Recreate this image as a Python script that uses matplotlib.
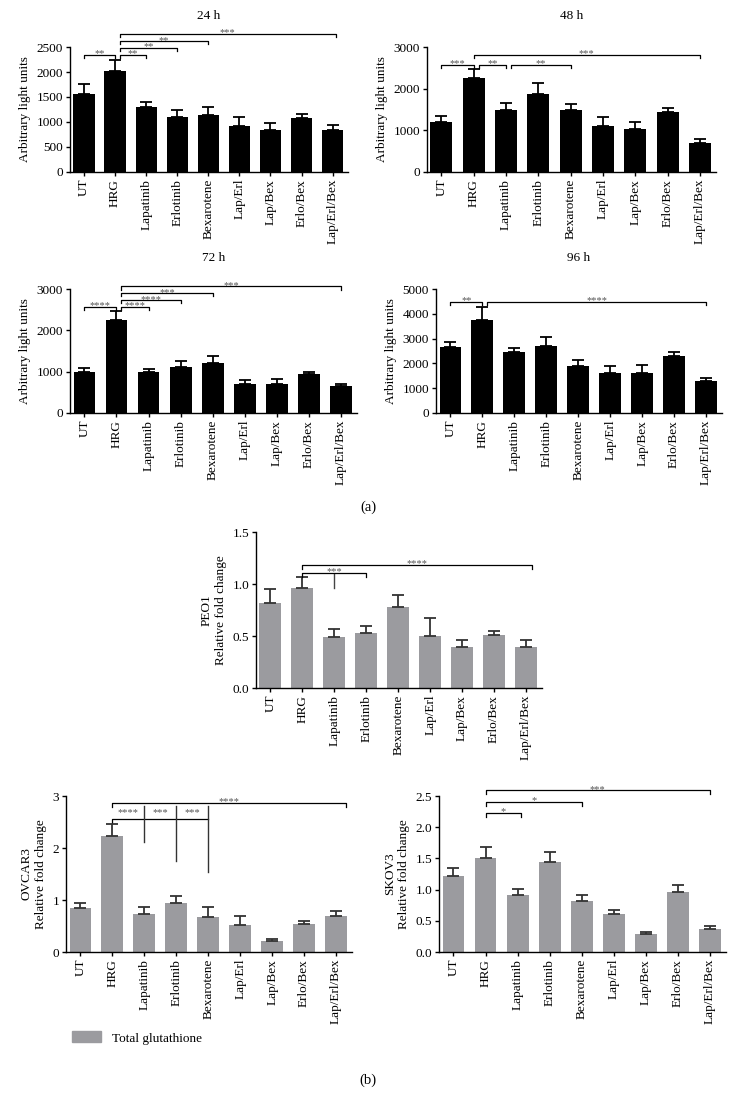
#Glutathione / light units bar panels, (a) time course and (b) cell lines

#Importing necessary packages
import numpy as np
import matplotlib.pyplot as plt
from matplotlib.patches import Patch

plt.rcParams['font.family'] = ['Liberation Serif', 'DejaVu Serif']

#Data
groups = ["UT", "HRG", "Lapatinib", "Erlotinib", "Bexarotene",
          "Lap/Erl", "Lap/Bex", "Erlo/Bex", "Lap/Erl/Bex"]

#(a) arbitrary light units, mean and top of error bar
h24 = [1550, 2020, 1290, 1100, 1140, 918, 835, 1070, 840]
h24_top = [1755, 2245, 1396, 1248, 1303, 1090, 984, 1157, 944]
h48 = [1205, 2266, 1495, 1883, 1484, 1101, 1021, 1436, 702]
h48_top = [1349, 2482, 1660, 2139, 1636, 1309, 1197, 1540, 782]
h72 = [980, 2240, 1000, 1104, 1216, 690, 696, 940, 650]
h72_top = [1088, 2464, 1064, 1248, 1376, 808, 816, 1000, 712]
h96 = [2667, 3760, 2453, 2693, 1893, 1613, 1627, 2293, 1293]
h96_top = [2867, 4293, 2627, 3067, 2133, 1893, 1920, 2453, 1427]

#(b) relative fold change of total glutathione
peo1 = [0.815, 0.962, 0.489, 0.527, 0.783, 0.502, 0.393, 0.511, 0.396]
peo1_top = [0.952, 1.064, 0.572, 0.594, 0.895, 0.674, 0.466, 0.550, 0.460]
ovcar3 = [0.843, 2.224, 0.735, 0.946, 0.671, 0.524, 0.204, 0.543, 0.696]
ovcar3_top = [0.946, 2.46, 0.863, 1.073, 0.863, 0.684, 0.243, 0.588, 0.786]
skov3 = [1.213, 1.511, 0.906, 1.443, 0.817, 0.604, 0.289, 0.962, 0.370]
skov3_top = [1.353, 1.681, 1.009, 1.609, 0.911, 0.668, 0.319, 1.077, 0.413]

#Significance brackets: (start, end, height, stars)
sig24 = [(0, 1, 2347, "**"), (1.15, 2, 2347, "**"), (1.15, 3, 2480, "**"),
         (1.15, 4, 2613, "**"), (1.15, 8.1, 2760, "***")]
sig48 = [(0, 1, 2578, "***"), (1.15, 2, 2578, "**"), (2.15, 4, 2578, "**"),
         (1.0, 8, 2817, "***")]
sig72 = [(0, 1, 2575, "****"), (1.15, 2, 2575, "****"), (1.15, 3, 2727, "****"),
         (1.15, 4, 2895, "***"), (1.15, 8, 3063, "***")]
sig96 = [(0, 1, 4488, "**"), (1.15, 8, 4488, "****")]
sig_peo1 = [(1.0, 3, 1.105, "***"), (1.0, 8.2, 1.184, "****")]
sig_ovcar3 = [(1.0, 8.3, 2.864, "****")]
sig_skov3 = [(1.0, 2.1, 2.234, "*"), (1.0, 4, 2.40, "*"), (1.0, 8, 2.591, "***")]

gray = '#9b9b9f'
x = np.arange(len(groups))


def draw_panel(ax, vals, tops, color, yticks, ylabel, fmt=None, ecolor='k'):
    vals = np.array(vals)
    tops = np.array(tops)
    ax.bar(x, vals, width=0.68, color=color, edgecolor='none', zorder=2)
    ax.errorbar(x, vals, yerr=[np.zeros_like(vals), tops - vals], fmt='none',
                ecolor=ecolor, elinewidth=1.3, capsize=4, capthick=1.3, zorder=3)
    ax.set_xlim(-0.45, 8.5)
    ax.set_ylim(0, yticks[-1])
    ax.set_yticks(yticks)
    if fmt:
        ax.set_yticklabels([fmt % t for t in yticks])
    ax.set_xticks(x)
    ax.set_xticklabels(groups, rotation=90, fontsize=9.5)
    ax.tick_params(axis='y', labelsize=9.5, length=3, width=1, pad=2)
    ax.tick_params(axis='x', length=3, width=1, pad=2)
    ax.spines['top'].set_visible(False)
    ax.spines['right'].set_visible(False)
    ax.spines['left'].set_linewidth(1)
    ax.spines['bottom'].set_linewidth(1)
    ax.set_ylabel(ylabel, fontsize=9.5, labelpad=4)


def brackets(ax, sigs):
    tick = ax.get_ylim()[1] * 0.025
    for x1, x2, y, stars in sigs:
        ax.plot([x1, x1, x2, x2], [y - tick, y, y, y - tick], color='k', lw=0.9,
                clip_on=False, zorder=4)
        ax.text((x1 + x2) / 2, y + tick * 0.3, stars, ha='center', va='center',
                fontsize=7.5, color='#555555', clip_on=False)


fig = plt.figure(figsize=(7.36, 11.01), dpi=100)

ax24 = fig.add_axes([0.0951, 0.8438, 0.378, 0.1135])
draw_panel(ax24, h24, h24_top, 'k', [0, 500, 1000, 1500, 2000, 2500], "Arbitrary light units")
brackets(ax24, sig24)
ax24.set_title("24 h", fontsize=9.5, pad=20)

ax48 = fig.add_axes([0.580, 0.8438, 0.393, 0.1135])
draw_panel(ax48, h48, h48_top, 'k', [0, 1000, 2000, 3000], "Arbitrary light units")
brackets(ax48, sig48)
ax48.set_title("48 h", fontsize=9.5, pad=20)

ax72 = fig.add_axes([0.0951, 0.6249, 0.390, 0.1126])
draw_panel(ax72, h72, h72_top, 'k', [0, 1000, 2000, 3000], "Arbitrary light units")
brackets(ax72, sig72)
ax72.set_title("72 h", fontsize=9.5, pad=20)

ax96 = fig.add_axes([0.5924, 0.6249, 0.3886, 0.1126])
draw_panel(ax96, h96, h96_top, 'k', [0, 1000, 2000, 3000, 4000, 5000], "Arbitrary light units")
brackets(ax96, sig96)
ax96.set_title("96 h", fontsize=9.5, pad=20)

fig.text(0.5, 1 - 507 / 1101, "(a)", ha='center', va='center', fontsize=10.5)

axp = fig.add_axes([0.3478, 0.3751, 0.3886, 0.1417])
draw_panel(axp, peo1, peo1_top, gray, [0.0, 0.5, 1.0, 1.5], "PEO1\nRelative fold change",
           fmt='%.1f', ecolor='#333333')
brackets(axp, sig_peo1)
axp.plot([2, 2], [0.958, 1.095], color='#444444', lw=1, clip_on=False)

axo = fig.add_axes([0.0897, 0.1353, 0.3886, 0.1417])
draw_panel(axo, ovcar3, ovcar3_top, gray, [0, 1, 2, 3], "OVCAR3\nRelative fold change",
           ecolor='#333333')
brackets(axo, sig_ovcar3)
#lower bracket with the vertical dividers
low = 2.557
axo.plot([1, 1, 4], [low - 0.07, low, low], color='k', lw=0.9, clip_on=False)
for xv, ybot in [(2, 2.11), (3, 1.757), (4, 1.533)]:
    axo.plot([xv, xv], [ybot, 2.81], color='#333333', lw=1, clip_on=False)
for xc, stars in [(1.5, "****"), (2.5, "***"), (3.5, "***")]:
    axo.text(xc, low + 0.03, stars, ha='center', va='bottom', fontsize=7.5, color='#555555')

axs = fig.add_axes([0.5965, 0.1353, 0.39, 0.1417])
draw_panel(axs, skov3, skov3_top, gray, [0.0, 0.5, 1.0, 1.5, 2.0, 2.5],
           "SKOV3\nRelative fold change", fmt='%.1f', ecolor='#333333')
brackets(axs, sig_skov3)

fig.legend(handles=[Patch(color=gray)], labels=["Total glutathione"], loc='center left',
           bbox_to_anchor=(0.082, 1 - 1038 / 1101), frameon=False, fontsize=9.5,
           handlelength=2.2, handleheight=0.9)

fig.text(0.5, 1 - 1080 / 1101, "(b)", ha='center', va='center', fontsize=10.5)

fig.savefig("out.png", dpi=100)
